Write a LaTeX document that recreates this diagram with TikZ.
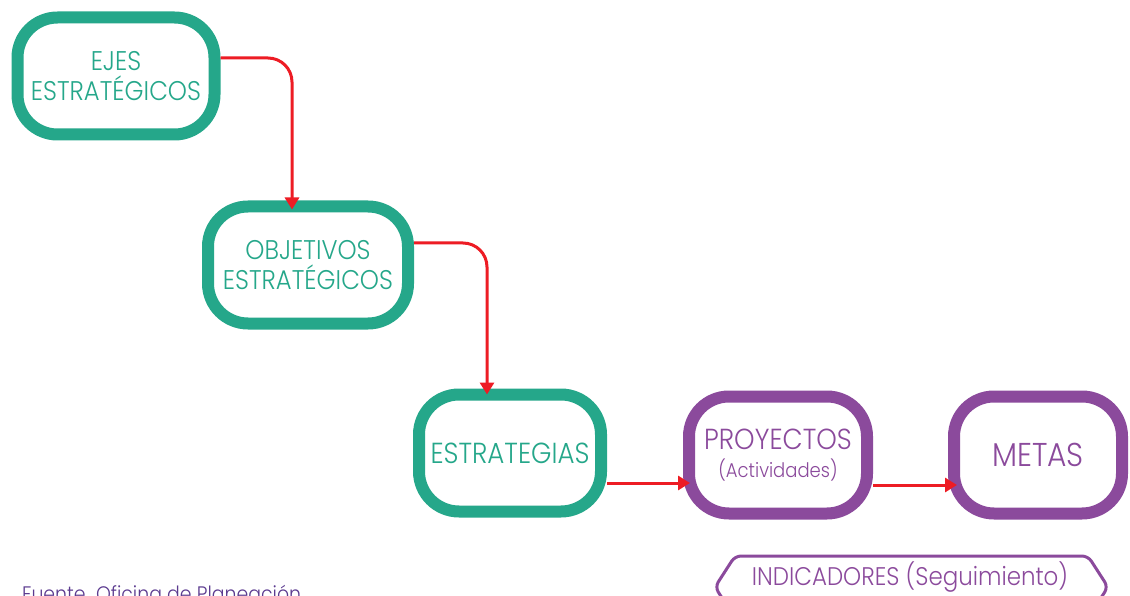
\documentclass[tikz,border=0pt]{standalone}
\usepackage{fontspec}
\setmainfont{Poppins Light}[FakeStretch=0.9]
\usetikzlibrary{arrows.meta}
\definecolor{teal}{HTML}{25A78A}
\definecolor{purp}{HTML}{8B4A9C}
\definecolor{redl}{HTML}{ED1C24}
\definecolor{foot}{HTML}{5B3A8F}
\tikzset{
  box/.style={draw, fill=white, line width=12pt, rounded corners=40pt, inner sep=0pt,
    minimum height=117pt, align=center, font=\fontsize{27}{30}\selectfont},
  gbox/.style={box, draw=teal, text=teal},
  pbox/.style={box, draw=purp, text=purp},
  arr/.style={draw=redl, line width=3pt, rounded corners=24pt,
    -{Triangle[length=12pt,width=14pt]}},
}
\begin{document}
\begin{tikzpicture}[x=1pt,y=-1pt]
\useasboundingbox (0,0) rectangle (1130,596);
\node[gbox, minimum width=197pt] (ejes) at (116,76) {EJES\\ESTRATÉGICOS};
\node[gbox, minimum width=200pt] (obj) at (308,265) {OBJETIVOS\\ESTRATÉGICOS};
\node[gbox, minimum width=182pt, font=\fontsize{29}{32}\selectfont] (estr) at (510,453) {ESTRATEGIAS};
\node[pbox, minimum width=178pt, font=\fontsize{29}{32}\selectfont] (proy) at (778,455) {PROYECTOS\\[-4pt]{\fontsize{20}{22}\selectfont (Actividades)}};
\node[pbox, minimum width=168pt, font=\fontsize{33}{36}\selectfont] (metas) at (1038,455) {METAS};
\coordinate (a1) at ([yshift=18pt]ejes.east);
\coordinate (a2) at ([yshift=22pt]obj.east);
\coordinate (a3) at ([yshift=-30pt]estr.east);
\coordinate (a4) at ([yshift=-30pt]proy.east);
\draw[arr, shorten >=-9pt] (a1) -| ([xshift=-16pt]obj.north);
\draw[arr, shorten >=-6pt] (a2) -| ([xshift=-23pt]estr.north);
\draw[arr, shorten >=-7pt] (a3) -- (a3 -| proy.west);
\draw[arr, shorten >=-9pt] (a4) -- (a4 -| metas.west);
\node[text=purp, font=\fontsize{25.5}{28}\selectfont, anchor=base] (indt) at (910,585) {INDICADORES (Seguimiento)};
\draw[purp, line width=3pt, rounded corners=6pt]
  (715,587) -- (735,556) -- (1088,556) -- (1108,587) -- (1088,618) -- (735,618) -- cycle;
\node[text=foot, font=\fontsize{21}{24}\selectfont, anchor=base west, inner sep=0pt] (fuente) at (22,601) {Fuente. Oficina de Planeación};
\end{tikzpicture}
\end{document}
